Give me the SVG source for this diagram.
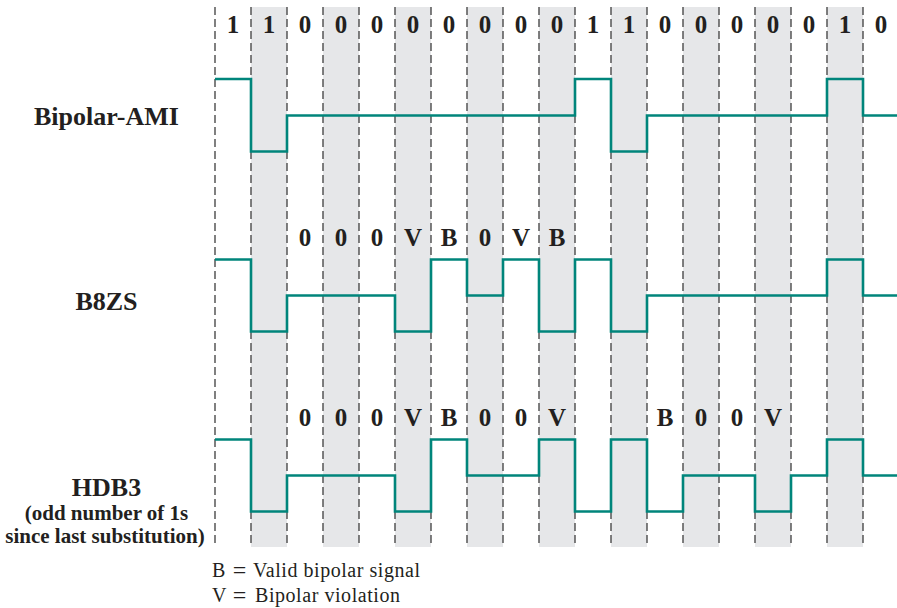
<svg xmlns="http://www.w3.org/2000/svg" width="897" height="608" viewBox="0 0 897 608">
<style>
.shade{fill:#e6e7e9}
.grid{stroke:#4a4a4a;stroke-width:1.4;stroke-dasharray:8 4;fill:none}
.wave{fill:none;stroke:#00857b;stroke-width:2.6;stroke-linejoin:miter}
.bit{font-family:"Liberation Serif","Times New Roman",serif;font-weight:bold;font-size:25px;fill:#231f20;text-anchor:middle}
.name{font-family:"Liberation Serif","Times New Roman",serif;font-weight:bold;font-size:26px;fill:#231f20;text-anchor:middle}
.sub{font-family:"Liberation Serif","Times New Roman",serif;font-weight:bold;font-size:21px;fill:#231f20;text-anchor:middle}
.legend{font-family:"Liberation Serif","Times New Roman",serif;font-size:20px;fill:#231f20}
.eq{font-family:"Liberation Serif","Times New Roman",serif;font-size:24px;fill:#231f20;text-anchor:middle}
</style>
<rect width="897" height="608" fill="#ffffff"/>
<g id="shading">
<rect class="shade" x="251" y="7" width="36" height="540"/>
<rect class="shade" x="323" y="7" width="36" height="540"/>
<rect class="shade" x="395" y="7" width="36" height="540"/>
<rect class="shade" x="467" y="7" width="36" height="540"/>
<rect class="shade" x="539" y="7" width="36" height="540"/>
<rect class="shade" x="611" y="7" width="36" height="540"/>
<rect class="shade" x="683" y="7" width="36" height="540"/>
<rect class="shade" x="755" y="7" width="36" height="540"/>
<rect class="shade" x="827" y="7" width="36" height="540"/>
</g>
<g id="gridlines">
<path class="grid" d="M215,7V547M251,7V547M287,7V547M323,7V547M359,7V547M395,7V547M431,7V547M467,7V547M503,7V547M539,7V547M575,7V547M611,7V547M647,7V547M683,7V547M719,7V547M755,7V547M791,7V547M827,7V547M863,7V547"/>
</g>
<g id="bits">
<text class="bit" x="233" y="33">1</text>
<text class="bit" x="269" y="33">1</text>
<text class="bit" x="305" y="33">0</text>
<text class="bit" x="341" y="33">0</text>
<text class="bit" x="377" y="33">0</text>
<text class="bit" x="413" y="33">0</text>
<text class="bit" x="449" y="33">0</text>
<text class="bit" x="485" y="33">0</text>
<text class="bit" x="521" y="33">0</text>
<text class="bit" x="557" y="33">0</text>
<text class="bit" x="593" y="33">1</text>
<text class="bit" x="629" y="33">1</text>
<text class="bit" x="665" y="33">0</text>
<text class="bit" x="701" y="33">0</text>
<text class="bit" x="737" y="33">0</text>
<text class="bit" x="773" y="33">0</text>
<text class="bit" x="809" y="33">0</text>
<text class="bit" x="845" y="33">1</text>
<text class="bit" x="881" y="33">0</text>
</g>
<g id="ami">
<text class="name" x="106.5" y="125">Bipolar-AMI</text>
</g>
<g id="b8zs">
<text class="name" x="106.5" y="310">B8ZS</text>
<text class="bit" x="305" y="246">0</text>
<text class="bit" x="341" y="246">0</text>
<text class="bit" x="377" y="246">0</text>
<text class="bit" x="413" y="246">V</text>
<text class="bit" x="449" y="246">B</text>
<text class="bit" x="485" y="246">0</text>
<text class="bit" x="521" y="246">V</text>
<text class="bit" x="557" y="246">B</text>
</g>
<g id="hdb3">
<text class="name" x="106.5" y="496">HDB3</text>
<text class="sub" x="106.5" y="520">(odd number of 1s</text>
<text class="sub" x="105" y="543">since last substitution)</text>
<text class="bit" x="305" y="426">0</text>
<text class="bit" x="341" y="426">0</text>
<text class="bit" x="377" y="426">0</text>
<text class="bit" x="413" y="426">V</text>
<text class="bit" x="449" y="426">B</text>
<text class="bit" x="485" y="426">0</text>
<text class="bit" x="521" y="426">0</text>
<text class="bit" x="557" y="426">V</text>
<text class="bit" x="665" y="426">B</text>
<text class="bit" x="701" y="426">0</text>
<text class="bit" x="737" y="426">0</text>
<text class="bit" x="773" y="426">V</text>
</g>
<g id="connectors">
<path class="wave" d="M215,79 H251 V151.5 H287 V115.5 H575 V79 H611 V151.5 H647 V115.5 H827 V79 H863 V115.5 H897"/>
<path class="wave" d="M215,259.5 H251 V331.5 H287 V295.5 H395 V331.5 H431 V259.5 H467 V295.5 H503 V259.5 H539 V331.5 H575 V259.5 H611 V331.5 H647 V295.5 H827 V259.5 H863 V295.5 H897"/>
<path class="wave" d="M215,439.5 H251 V511.5 H287 V475.5 H395 V511.5 H431 V439.5 H467 V475.5 H539 V439.5 H575 V511.5 H611 V439.5 H647 V511.5 H683 V475.5 H755 V511.5 H791 V475.5 H827 V439.5 H863 V475.5 H897"/>
</g>
<g id="legend">
<text class="legend" x="212" y="577">B</text>
<text class="eq" x="239.5" y="578">=</text>
<text class="legend" x="253" y="577" textLength="167">Valid bipolar signal</text>
<text class="legend" x="212" y="602">V</text>
<text class="eq" x="239.5" y="603">=</text>
<text class="legend" x="255" y="602" textLength="145">Bipolar violation</text>
</g>
</svg>
